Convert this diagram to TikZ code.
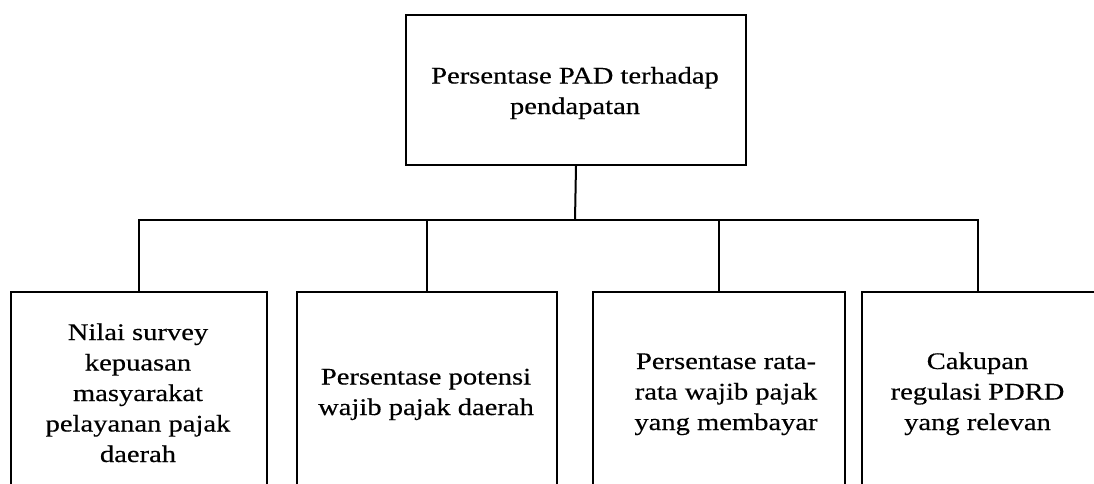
\documentclass[tikz,border=0pt]{standalone}
\usepackage{fontspec}
\setmainfont{Liberation Serif}[FakeStretch=1.2, FakeBold=0.4]
\begin{document}
\begin{tikzpicture}[x=1pt,y=-1pt,
  box/.style={draw, line width=2pt, inner sep=0pt, anchor=north west, minimum height=260pt},
  lbl/.style={align=center, font=\fontsize{23.8}{30.5}\selectfont, inner sep=0pt, anchor=base},
  link/.style={line width=2pt}]
\useasboundingbox (0,0) rectangle (1094,484);
\clip (0,0) rectangle (1094,484);
% root box
\node[box, minimum width=340pt, minimum height=150pt] (top) at (405,14) {};
\node[lbl] (ttop) at (575,114) {Persentase PAD terhadap\\pendapatan};
% child boxes
\node[box, minimum width=256pt] (b1) at (10,291) {};
\node[box, minimum width=260pt] (b2) at (296,291) {};
\node[box, minimum width=252pt] (b3) at (592,291) {};
\node[box, minimum width=240pt] (b4) at (861,291) {};
% labels (anchored at the baseline of their last line)
\node[lbl] (t1) at (138,462) {Nilai survey\\kepuasan\\masyarakat\\pelayanan pajak\\daerah};
\node[lbl] (t2) at (426,415) {Persentase potensi\\wajib pajak daerah};
\node[lbl] (t3) at (726,430) {Persentase rata-\\rata wajib pajak\\yang membayar};
\node[lbl] (t4) at (977.5,430) {Cakupan\\regulasi PDRD\\yang relevan};
% connectors
\coordinate (bar) at (575,220);
\coordinate (s4) at ([xshift=117pt]b4.north west);
\draw[link] (top.south) -- (bar);
\draw[link] (b1.north) -- (b1.north |- bar) -- (s4 |- bar) -- (s4);
\draw[link] (b2.north) -- (b2.north |- bar);
\draw[link] (b3.north) -- (b3.north |- bar);
\end{tikzpicture}
\end{document}
